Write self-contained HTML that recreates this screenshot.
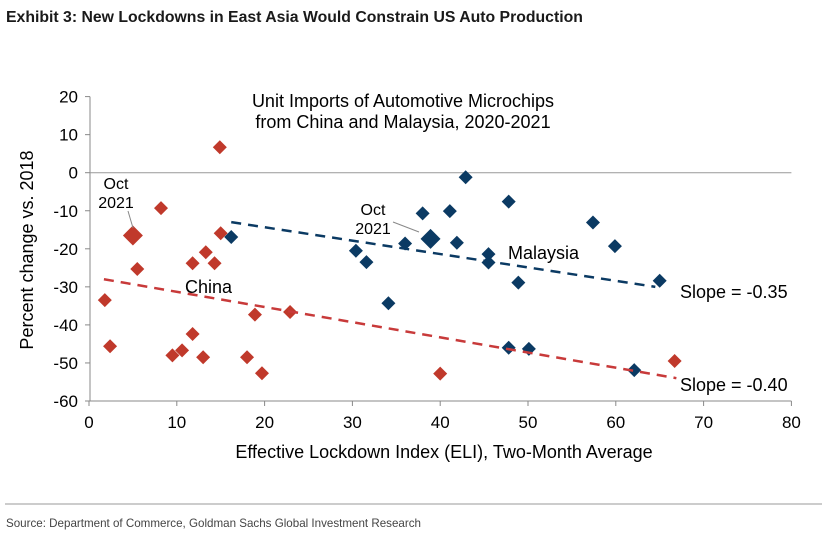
<!DOCTYPE html>
<html><head><meta charset="utf-8"><style>
body{margin:0;background:#fff;width:827px;height:540px;overflow:hidden;font-family:"Liberation Sans",sans-serif}
svg text{font-family:"Liberation Sans",sans-serif}
</style></head><body>
<svg id="c" width="827" height="540">
<text x="6" y="22" font-family="Liberation Sans Narrow, Liberation Sans, sans-serif" font-weight="bold" font-size="15.8" fill="#1a1a1a">Exhibit 3: New Lockdowns in East Asia Would Constrain US Auto Production</text>
<text x="403" y="107" text-anchor="middle" font-size="18">Unit Imports of Automotive Microchips</text>
<text x="403" y="128" text-anchor="middle" font-size="18">from China and Malaysia, 2020-2021</text>
<text transform="translate(33,250) rotate(-90)" text-anchor="middle" font-size="18">Percent change vs. 2018</text>
<text x="444" y="458" text-anchor="middle" font-size="18">Effective Lockdown Index (ELI), Two-Month Average</text>
<line x1="5" y1="504" x2="822" y2="504" stroke="#999" stroke-width="1"/>
<text x="6" y="527" font-family="Liberation Sans Narrow, Liberation Sans, sans-serif" font-size="11.6" fill="#444">Source: Department of Commerce, Goldman Sachs Global Investment Research</text>
<g id="axes"></g><g id="marks"></g>
<text x="116" y="189" text-anchor="middle" font-size="16">Oct</text>
<text x="116" y="208" text-anchor="middle" font-size="16">2021</text>
<line x1="128" y1="211" x2="133" y2="228" stroke="#888"/>
<text x="373" y="215" text-anchor="middle" font-size="16">Oct</text>
<text x="373" y="234" text-anchor="middle" font-size="16">2021</text>
<line x1="393" y1="222" x2="419" y2="232" stroke="#888"/>
<text x="185" y="293" font-size="18">China</text>
<text x="508" y="259" font-size="18">Malaysia</text>
<text x="680" y="298" font-size="18">Slope = -0.35</text>
<text x="680" y="391" font-size="18">Slope = -0.40</text>
</svg>
<script>
const xTicks=[0,10,20,30,40,50,60,70,80];
const yTicks=[20,10,0,-10,-20,-30,-40,-50,-60];
const chinaX=[1.8,2.4,5.0,5.5,8.2,14.9,15.0,9.5,10.6,11.8,11.8,13.0,13.3,14.3,18.0,19.7,22.9,18.9,40.0,66.7];
const chinaY=[-33.5,-45.6,-16.5,-25.3,-9.3,6.7,-15.9,-48.0,-46.7,-23.8,-42.4,-48.5,-20.9,-23.8,-48.5,-52.7,-36.6,-37.3,-52.8,-49.5];
const chinaBig=[2];
const malX=[16.2,30.4,31.6,34.1,36.0,38.0,38.9,41.1,41.9,42.9,45.5,45.5,47.8,48.9,57.4,59.9,65.0,47.8,50.1,62.1];
const malY=[-16.9,-20.5,-23.5,-34.3,-18.6,-10.7,-17.4,-10.1,-18.4,-1.2,-21.4,-23.6,-7.6,-28.9,-13.1,-19.3,-28.4,-46.0,-46.3,-51.9];
const malBig=[6];
const malTrend=[16.2,-13.0,64.5,-30.0];
const chinaTrend=[1.7,-28.0,66.9,-54.0];
const X0=89,XS=8.78,Y0=172.7,YS=3.805;
const sx=v=>X0+v*XS, sy=v=>Y0-v*YS;
const NS='http://www.w3.org/2000/svg';
const ax=document.getElementById('axes'), mk=document.getElementById('marks');
function mkEl(t,a,p){const e=document.createElementNS(NS,t);for(const k in a)e.setAttribute(k,a[k]);p.appendChild(e);return e;}
let e;
e=mkEl('line',{x1:90,y1:sy(20),x2:90,y2:sy(-60),stroke:'#888'},ax);


e=mkEl('line',{x1:90,y1:sy(-60),x2:sx(80),y2:sy(-60),stroke:'#888'},ax);


e=mkEl('line',{x1:90,y1:sy(0),x2:sx(80),y2:sy(0),stroke:'#999'},ax);


yTicks.forEach(v=>{
 e=mkEl('line',{x1:85,y1:sy(v),x2:90,y2:sy(v),stroke:'#888'},ax);
 
 
 e=mkEl('text',{x:78,y:sy(v)+6,'text-anchor':'end','font-size':17},ax);e.textContent=v;
 
 
});
xTicks.forEach(v=>{
 e=mkEl('line',{x1:sx(v),y1:sy(-60),x2:sx(v),y2:sy(-60)+5,stroke:'#888'},ax);
 
 
 e=mkEl('text',{x:sx(v),y:428,'text-anchor':'middle','font-size':17},ax);e.textContent=v;
 
 
});
function trend(t,c,n){e=mkEl('line',{x1:sx(t[0]),y1:sy(t[1]),x2:sx(t[2]),y2:sy(t[3]),stroke:c,'stroke-width':2.5,'stroke-dasharray':'10,7'},mk);
 
 }
function pts(X,Y,big,c,n){X.forEach((x,i)=>{const r=big.includes(i)?10:7,cx=sx(x),cy=sy(Y[i]);
 e=mkEl('polygon',{points:`${cx},${cy-r} ${cx+r},${cy} ${cx},${cy+r} ${cx-r},${cy}`,fill:c},mk);
 
 });}
pts(chinaX,chinaY,chinaBig,'#c0392b','china-point');
pts(malX,malY,malBig,'#0b3a63','malaysia-point');
trend(malTrend,'#0b3a63','malaysia-trendline');
trend(chinaTrend,'#c83a3a','china-trendline');
</script>
</body></html>
